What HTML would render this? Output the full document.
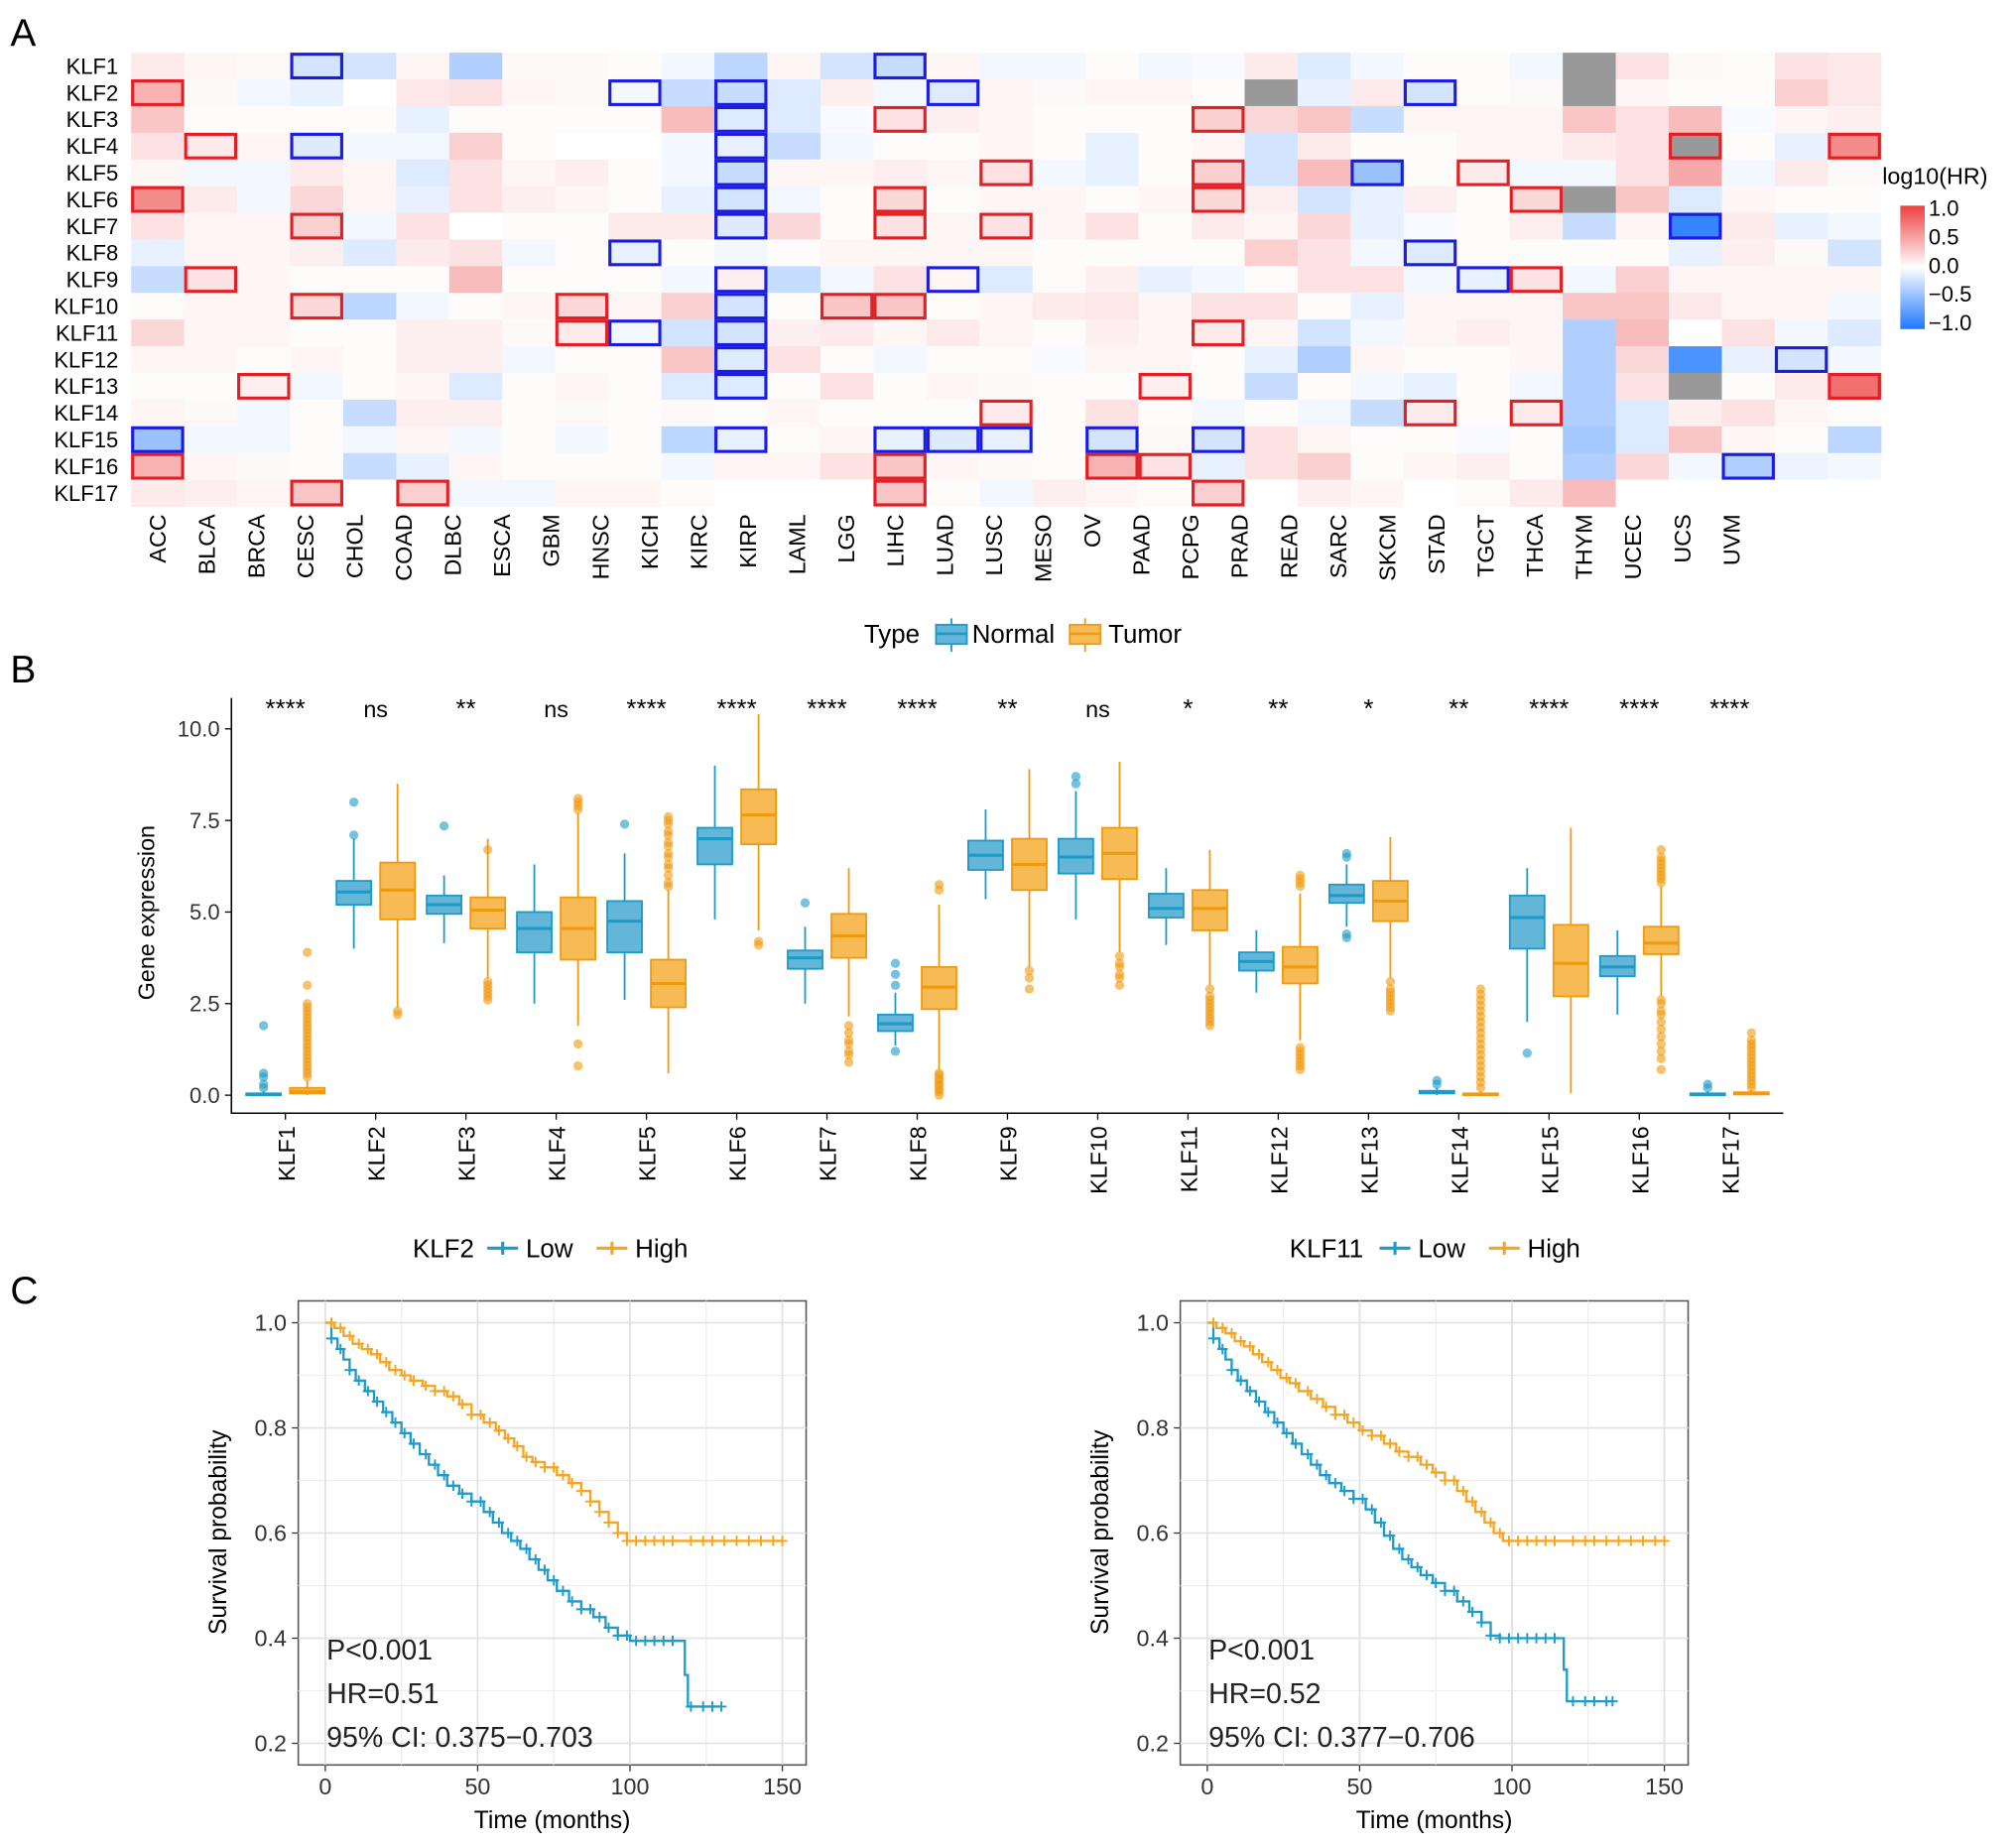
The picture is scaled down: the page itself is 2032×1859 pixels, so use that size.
<!DOCTYPE html>
<html><head><meta charset="utf-8"><style>
html,body{margin:0;padding:0;background:#fff;}
svg{display:block;font-family:"Liberation Sans",Arial,sans-serif;}
</style></head><body>
<svg id="fig" xmlns="http://www.w3.org/2000/svg" width="2032" height="1859" viewBox="0 0 1568 1434.5">
<text x="8" y="36" font-size="30">A</text>
<text x="8" y="531" font-size="30">B</text>
<text x="8" y="1014" font-size="30">C</text>
<g id="heat"></g>
<g id="box"></g>
<g id="km1"></g>
<g id="km2"></g>
</svg>
<script>
const NS='http://www.w3.org/2000/svg';
function mk(tag,attrs,parent,txt){const e=document.createElementNS(NS,tag);for(const k in attrs)e.setAttribute(k,attrs[k]);if(txt!==undefined)e.textContent=txt;parent.appendChild(e);return e;}

// ---------------- Panel A data ----------------
const genes=['KLF1','KLF2','KLF3','KLF4','KLF5','KLF6','KLF7','KLF8','KLF9','KLF10','KLF11','KLF12','KLF13','KLF14','KLF15','KLF16','KLF17'];
const cancers=['ACC','BLCA','BRCA','CESC','CHOL','COAD','DLBC','ESCA','GBM','HNSC','KICH','KIRC','KIRP','LAML','LGG','LIHC','LUAD','LUSC','MESO','OV','PAAD','PCPG','PRAD','READ','SARC','SKCM','STAD','TGCT','THCA','THYM','UCEC','UCS','UVM'];
const NA=null;
const hrValues=[
[.1,.05,.03,-.2,-.2,.05,-.35,.03,.03,.02,-.05,-.3,.05,-.2,-.25,.05,-.05,-.05,.02,-.05,-.03,.1,-.15,-.05,.02,.02,-.05,NA,.15,.03,.02,.15,.12],
[.4,.03,-.05,-.1,0,.12,.15,.05,.03,-.05,-.25,-.25,-.15,.08,-.05,-.15,.05,.03,.05,.05,.02,NA,-.1,.1,-.2,.02,.03,NA,.05,.02,.02,.25,.12],
[.3,.02,.02,.02,.02,-.1,.02,.02,.02,.02,.35,-.15,-.15,-.03,.15,.08,.05,.02,.02,.02,.25,.2,.3,-.25,.05,.05,.05,.3,.15,.35,-.03,.05,.08],
[.15,.1,.05,-.15,-.05,-.05,.25,.02,0,0,-.05,-.1,-.25,-.05,.02,.02,.05,.02,-.1,.02,.05,-.2,.1,.02,.02,.05,.05,.1,.15,NA,.02,-.1,.6],
[.05,-.05,-.05,.1,.05,-.15,.15,.05,.08,.02,-.05,-.25,.05,.05,.08,.05,.15,-.05,-.1,.02,.25,-.2,.35,-.45,.02,.1,-.05,-.05,.15,.45,-.05,.1,.03],
[.6,.1,-.05,.2,.05,-.1,.15,.08,.05,.02,-.1,-.2,-.05,.02,.2,.02,.05,.05,.02,.05,.2,.08,-.2,-.1,.08,.02,.2,NA,.3,-.15,.05,.02,.02],
[.15,.05,.05,.25,-.05,.15,0,.02,.02,.1,.1,-.15,.2,.02,.15,.05,.15,.05,.15,.02,.1,.05,.2,-.1,-.03,.02,.08,-.25,.05,-.9,.1,-.1,-.05],
[-.1,.05,.05,.08,-.15,.1,.15,-.05,.02,-.1,.02,-.05,.02,.05,.05,.05,.05,.02,.02,.02,.02,.25,.15,-.05,-.15,.02,.02,.02,.02,-.1,.08,.03,-.2],
[-.25,.15,.05,.02,.02,.02,.35,.02,.02,.02,-.05,.08,-.25,-.05,.15,.05,-.15,.02,.08,-.1,-.05,.02,.15,.15,-.05,-.1,.15,-.05,.25,.05,.05,.05,.05],
[.02,.05,.05,.2,-.3,-.05,.02,.05,.2,.05,.25,-.2,.02,.3,.3,.02,.05,.1,.12,.05,.15,.15,.02,-.1,.05,.05,.05,.3,.3,.12,.05,.05,-.05],
[.2,.05,.05,.02,.02,.08,.08,.03,.1,-.05,-.2,-.2,.08,.1,.05,.1,.05,.02,.08,.05,.1,.05,-.2,-.05,.05,.08,.05,-.35,.35,0,.15,-.05,-.15],
[.05,.05,.02,.05,.02,.08,.08,-.05,.02,.02,.3,-.15,.15,.02,-.05,.02,.02,-.03,.05,.05,.02,-.1,-.35,.05,.02,.02,.05,-.35,.2,-.8,-.1,-.2,-.05],
[.02,.02,.08,-.05,.02,.05,-.15,.02,.05,.02,-.15,-.15,.02,.15,.02,.05,.03,.02,.02,.08,.02,-.25,.02,-.05,-.1,.02,-.05,-.35,.15,NA,.02,.1,.75],
[.05,.03,-.05,.02,-.25,.08,.08,.02,.03,.02,.03,.02,.05,.02,.02,.02,.1,.02,.15,.02,-.05,.02,-.05,-.25,.1,.02,.1,-.35,-.15,.08,.15,.05,.02],
[-.45,-.05,-.05,.02,-.05,.05,-.05,.02,-.05,.02,-.3,-.1,.02,.05,-.1,-.15,-.1,.02,-.2,.03,-.2,.15,.05,.02,.02,-.03,.02,-.4,-.15,.3,.05,.02,-.3],
[.4,.05,.03,.02,-.25,-.1,.05,.02,.02,.02,-.05,.05,.05,.15,.3,.05,.03,.02,.4,.15,-.1,.15,.25,.02,.05,.08,.02,-.35,.2,-.05,-.35,-.08,-.05],
[.1,.08,.05,.3,0,.25,-.05,-.05,.05,.05,.02,0,0,0,.3,.02,-.05,.08,.05,.02,.25,0,.08,.05,0,.02,.1,.35,0,0,0,0,0]
];
const redBoxes=[[1,0],[2,14],[3,1],[4,16],[5,0],[5,14],[6,3],[6,14],[6,16],[8,1],[9,3],[9,8],[9,13],[9,14],[10,8],[12,2],[13,16],[15,0],[15,14],[16,3],[16,5],[16,14],
[2,20],[3,29],[3,32],[4,20],[4,25],[5,20],[5,26],[8,26],[10,20],[12,19],[12,32],[13,24],[13,26],[15,18],[15,19],[16,20]];
const blueBoxes=[[0,3],[0,14],[1,9],[1,11],[1,15],[2,11],[3,3],[3,11],[4,11],[5,11],[6,11],[7,9],[8,11],[8,15],[9,11],[10,9],[10,11],[11,11],[12,11],[14,0],[14,11],[14,14],[14,15],[14,16],
[1,24],[4,23],[6,29],[7,24],[8,25],[11,31],[14,18],[14,20],[15,30]];
const cbTicks=[1.0,0.5,0.0,-0.5,-1.0];

function hrColor(v){
  if(v===null)return '#999999';
  v=Math.max(-1,Math.min(1,v));
  let r,g,b;
  if(v>=0){r=255+(238-255)*v;g=255+(64-255)*v;b=255+(64-255)*v;}
  else{const t=-v;r=255+(30-255)*t;g=255+(120-255)*t;b=255;}
  return `rgb(${r|0},${g|0},${b|0})`;
}
(function(){
  const g=document.getElementById('heat');
  const x0=102,y0=41,cw=41.24,ch=20.76;
  hrValues.forEach((row,ri)=>row.forEach((v,ci)=>{
    const c=mk('rect',{x:x0+ci*cw,y:y0+ri*ch,width:cw+0.4,height:ch+0.4,fill:hrColor(v)},g);
    
    
  }));
  function box(list,col){list.forEach(([ri,ci])=>{
    const b=mk('rect',{x:x0+ci*cw+1.2,y:y0+ri*ch+1.2,width:cw-2.4,height:ch-2.4,fill:'none',stroke:col,'stroke-width':2.4},g);
    
    
  });}
  box(redBoxes,'#E31F26');box(blueBoxes,'#1C1CE0');
  genes.forEach((gn,i)=>{
    const t=mk('text',{x:92,y:y0+i*ch+ch/2+6,'text-anchor':'end','font-size':17},g,gn);
    
    
  });
  cancers.forEach((cn,i)=>{
    const cx=123+i*38.25+6;
    const t=mk('text',{x:0,y:0,'text-anchor':'end','font-size':18,transform:`translate(${cx},400) rotate(-90)`},g,cn);
    
    
  });
  const defs=mk('defs',{},g);
  const lg=mk('linearGradient',{id:'cbg',x1:0,y1:0,x2:0,y2:1},defs);
  [[0,hrColor(1)],[0.5,'#ffffff'],[1,hrColor(-1)]].forEach(([o,c])=>mk('stop',{offset:o,'stop-color':c},lg));
  const cb=mk('rect',{x:1478,y:160,width:19,height:96,fill:'url(#cbg)'},g);
  
  
  const tt=mk('text',{x:1464,y:143,'font-size':18},g,'log10(HR)');
  
  
  cbTicks.forEach(v=>{
    const y=162+(1-v)/2*89;
    const t=mk('text',{x:1500,y:y+6,'font-size':17},g,(v<0?'\u2212':'')+Math.abs(v).toFixed(1));
    
    
  });
})();

// ---------------- Panel B data ----------------
const boxGenes=genes;
const sigLabels=['****','ns','**','ns','****','****','****','****','**','ns','*','**','*','**','****','****','****'];
const normalStats=[[0,0,0.02,0.05,0.1],[4.0,5.2,5.55,5.85,7.0],[4.15,4.95,5.2,5.45,6.0],[2.5,3.9,4.55,5.0,6.3],[2.6,3.9,4.75,5.3,6.6],[4.8,6.3,7.0,7.3,9.0],[2.5,3.45,3.75,3.95,4.6],[1.35,1.75,1.95,2.2,2.8],[5.35,6.15,6.55,6.95,7.8],[4.8,6.05,6.5,7.0,8.3],[4.1,4.85,5.1,5.5,6.2],[2.8,3.4,3.65,3.9,4.5],[4.6,5.25,5.45,5.75,6.3],[0,0.05,0.08,0.12,0.2],[2.0,4.0,4.85,5.45,6.2],[2.2,3.25,3.5,3.8,4.5],[0,0,0.02,0.05,0.1]];
const tumorStats=[[0,0.05,0.1,0.2,0.4],[2.4,4.8,5.6,6.35,8.5],[3.2,4.55,5.05,5.4,7.0],[1.9,3.7,4.55,5.4,7.7],[0.6,2.4,3.05,3.7,5.6],[4.5,6.85,7.65,8.35,10.4],[2.15,3.75,4.35,4.95,6.2],[0.7,2.35,2.95,3.5,5.2],[3.5,5.6,6.3,7.0,8.9],[3.9,5.9,6.6,7.3,9.1],[3.0,4.5,5.1,5.6,6.7],[1.5,3.05,3.5,4.05,5.5],[3.2,4.75,5.3,5.85,7.05],[0,0,0.02,0.05,0.1],[0.05,2.7,3.6,4.65,7.3],[2.7,3.85,4.15,4.6,5.7],[0,0.02,0.05,0.08,0.15]];
const normalOutliers=[[0.2,0.3,0.5,0.6,1.9],[7.1,8.0],[7.35],[],[7.4],[],[5.25],[1.2,3.0,3.3,3.6],[],[8.5,8.7],[],[],[4.3,4.4,6.5,6.6],[0.3,0.4],[1.15],[],[0.2,0.3]];
const tumorOutliers=[[0.5,0.6,0.7,0.8,0.9,1.0,1.1,1.2,1.3,1.4,1.5,1.6,1.7,1.8,1.9,2.0,2.1,2.2,2.3,2.4,2.5,3.0,3.9],[2.2,2.3],[2.6,2.7,2.8,2.9,3.0,3.1,6.7],[0.8,1.4,7.8,7.9,8.0,8.1],[5.7,5.8,6.0,6.2,6.3,6.5,6.6,6.8,6.9,7.1,7.2,7.4,7.5,7.6],[4.1,4.2],[0.9,1.1,1.2,1.4,1.5,1.7,1.9],[0,0.1,0.15,0.25,0.3,0.4,0.45,0.55,0.6,5.6,5.75],[2.9,3.2,3.4],[3.0,3.2,3.3,3.5,3.6,3.8],[1.9,2.0,2.1,2.2,2.3,2.4,2.5,2.6,2.7,2.9],[0.7,0.8,0.9,1.0,1.1,1.2,1.3,5.7,5.8,5.9,6.0],[2.3,2.4,2.5,2.6,2.7,2.8,2.9,3.1],[0.2,0.35,0.5,0.65,0.8,0.95,1.1,1.25,1.4,1.55,1.7,1.85,2.0,2.15,2.3,2.45,2.6,2.75,2.9],[],[0.7,1.0,1.2,1.4,1.6,1.8,2.0,2.2,2.3,2.5,2.6,5.8,5.9,6.0,6.1,6.2,6.3,6.4,6.5,6.7],[0.2,0.3,0.4,0.5,0.6,0.7,0.8,0.9,1.0,1.1,1.2,1.3,1.4,1.5,1.7]];
const yTicksB=[0,2.5,5,7.5,10];
(function(){
  const g=document.getElementById('box');
  const yS=v=>852-v*28.5;
  const xS=i=>222+i*70.2;
  const ax=mk('path',{d:'M180,543 V866 H1387',fill:'none',stroke:'#000','stroke-width':1.2},g);
  
  
  yTicksB.forEach(v=>{
    mk('line',{x1:175,x2:180,y1:yS(v),y2:yS(v),stroke:'#000'},g);
    const t=mk('text',{x:171,y:yS(v)+6,'text-anchor':'end','font-size':17,fill:'#333'},g,v.toFixed(1));
    
    
  });
  const yt=mk('text',{transform:'translate(120,710) rotate(-90)','text-anchor':'middle','font-size':18},g,'Gene expression');
  
  
  function drawBox(s,outl,cx,fill,stroke,name){
    const w=27;
    mk('line',{x1:cx,x2:cx,y1:yS(s[0]),y2:yS(s[1]),stroke:stroke,'stroke-width':1.4},g);
    mk('line',{x1:cx,x2:cx,y1:yS(s[3]),y2:yS(s[4]),stroke:stroke,'stroke-width':1.4},g);
    const r=mk('rect',{x:cx-w/2,y:yS(s[3]),width:w,height:Math.max(1,yS(s[1])-yS(s[3])),fill:fill,stroke:stroke,'stroke-width':1.4},g);
    
    
    mk('line',{x1:cx-w/2,x2:cx+w/2,y1:yS(s[2]),y2:yS(s[2]),stroke:stroke,'stroke-width':2.4},g);
    outl.forEach(o=>{
      const c=mk('circle',{cx:cx,cy:yS(o),r:3.6,fill:stroke,'fill-opacity':0.6},g);
      
      
    });
  }
  boxGenes.forEach((gn,i)=>{
    const cx=xS(i);
    mk('line',{x1:cx,x2:cx,y1:866,y2:871,stroke:'#000'},g);
    drawBox(normalStats[i],normalOutliers[i],cx-17,'#63B6D8','#1C9BC8','box-normal');
    drawBox(tumorStats[i],tumorOutliers[i],cx+17,'#F7BB55','#F09A0E','box-tumor');
    const t=mk('text',{transform:`translate(${cx+7},876) rotate(-90)`,'text-anchor':'end','font-size':18},g,gn);
    
    
    const s=mk('text',{x:cx,y:558,'text-anchor':'middle','font-size':sigLabels[i]==='ns'?18:20},g,sigLabels[i]);
    
    
  });
  const lt=mk('text',{x:672,y:500,'font-size':20},g,'Type');
  
  
  [[728,'#63B6D8','#1C9BC8','Normal',756],[832,'#F7BB55','#F09A0E','Tumor',862]].forEach(([x,f,s,l,tx])=>{
    mk('line',{x1:x+12,x2:x+12,y1:481,y2:507,stroke:s,'stroke-width':1.4},g);
    const r=mk('rect',{x:x,y:486,width:24,height:15,fill:f,stroke:s,'stroke-width':1.4},g);
    
    
    mk('line',{x1:x,x2:x+24,y1:493,y2:493,stroke:s,'stroke-width':2},g);
    const t=mk('text',{x:tx,y:500,'font-size':20},g,l);
    
    
  });
})();

// ---------------- Panel C data ----------------
const kmXTicks=[0,50,100,150];
const kmYTicks=[0.2,0.4,0.6,0.8,1.0];
const klf2HighT=[0,3,6,9,12,15,18,21,25,28,32,36,40,44,48,52,56,59,62,65,68,72,76,80,84,87,90,93,96,99,150];
const klf2HighS=[1,.99,.975,.96,.95,.94,.925,.91,.9,.89,.88,.87,.86,.845,.825,.81,.795,.78,.765,.745,.735,.725,.71,.695,.68,.66,.64,.62,.6,.585,.585];
const klf2LowT=[0,2,4,6,8,10,13,16,19,22,25,28,31,34,37,40,44,48,52,55,58,61,64,67,70,73,76,80,84,88,92,96,100,117,118,119,130];
const klf2LowS=[1,.97,.95,.93,.91,.89,.87,.85,.83,.81,.79,.77,.75,.73,.71,.69,.675,.66,.64,.62,.6,.585,.57,.55,.53,.51,.49,.47,.455,.44,.42,.405,.395,.395,.33,.27,.27];
const klf11HighT=[0,3,6,9,12,15,18,21,24,27,30,34,38,42,46,50,54,58,62,66,70,74,78,82,85,88,91,94,97,150];
const klf11HighS=[1,.99,.98,.965,.955,.94,.925,.91,.895,.885,.87,.855,.84,.825,.81,.795,.785,.77,.755,.745,.73,.715,.7,.68,.66,.64,.62,.6,.585,.585];
const klf11LowT=[0,2,4,6,8,10,13,16,19,22,25,28,31,34,37,40,44,48,52,55,58,61,64,67,70,74,78,82,86,90,93,96,116,117,118,133];
const klf11LowS=[1,.97,.95,.93,.91,.89,.87,.85,.83,.81,.79,.77,.75,.73,.71,.695,.68,.665,.645,.62,.595,.57,.55,.535,.52,.505,.49,.47,.45,.43,.405,.4,.4,.34,.28,.28];
const censorTimes=[2,5,8,11,14,17,20,23,26,29,33,36,39,42,45,48,51,54,57,60,63,66,69,72,75,78,81,84,87,90,93,96,99,102,105,108,111,114,120,124,127,131,135,139,143,147];

function km(gid,x0,legendName,legendX,highT,highS,lowT,lowS,stats){
  const g=document.getElementById(gid);
  const xS=t=>x0+21+t*2.37;
  const yS=s=>1029+(1-s)*409;
  const L=x0,R=x0+395,T=1012,B=1373;
  const fr=mk('rect',{x:L,y:T,width:R-L,height:B-T,fill:'#fff',stroke:'#555','stroke-width':1.2},g);
  
  
  [25,75,125].forEach(t=>mk('line',{x1:xS(t),x2:xS(t),y1:T,y2:B,stroke:'#eeeeee','stroke-width':1},g));
  [0.3,0.5,0.7,0.9].forEach(s=>mk('line',{x1:L,x2:R,y1:yS(s),y2:yS(s),stroke:'#eeeeee','stroke-width':1},g));
  kmXTicks.forEach(t=>{
    mk('line',{x1:xS(t),x2:xS(t),y1:T,y2:B,stroke:'#e2e2e2','stroke-width':1.4},g);
    mk('line',{x1:xS(t),x2:xS(t),y1:B,y2:B+5,stroke:'#333'},g);
    const tx=mk('text',{x:xS(t),y:B+23,'text-anchor':'middle','font-size':18,fill:'#333'},g,String(t));
    
    
  });
  kmYTicks.forEach(s=>{
    mk('line',{x1:L,x2:R,y1:yS(s),y2:yS(s),stroke:'#e2e2e2','stroke-width':1.4},g);
    mk('line',{x1:L-5,x2:L,y1:yS(s),y2:yS(s),stroke:'#333'},g);
    const ty=mk('text',{x:L-9,y:yS(s)+6,'text-anchor':'end','font-size':18,fill:'#333'},g,s.toFixed(1));
    
    
  });
  const xt=mk('text',{x:(L+R)/2,y:1422,'text-anchor':'middle','font-size':19},g,'Time (months)');
  
  
  const yt=mk('text',{transform:`translate(${L-56},1192) rotate(-90)`,'text-anchor':'middle','font-size':19},g,'Survival probability');
  
  
  function curve(T_,S_,col,name){
    let d=`M${xS(T_[0])},${yS(S_[0])}`;
    for(let i=1;i<T_.length;i++){d+=` H${xS(T_[i])} V${yS(S_[i])}`;}
    const p=mk('path',{d:d,fill:'none',stroke:col,'stroke-width':1.8},g);
    
    
    const tmax=T_[T_.length-1];
    const sAt=t=>{let s=S_[0];for(let i=0;i<T_.length;i++){if(T_[i]<=t)s=S_[i];}return s;};
    censorTimes.concat([tmax]).forEach(t=>{
      if(t>tmax)return;
      const x=xS(t),y=yS(sAt(t));
      const c=mk('path',{d:`M${x-4},${y} H${x+4} M${x},${y-4} V${y+4}`,stroke:col,'stroke-width':1.5},g);
      
      
    });
  }
  curve(lowT,lowS,'#1F9BC9','survival-curve-low');
  curve(highT,highS,'#F5A522','survival-curve-high');
  stats.forEach((s,i)=>{
    const t=mk('text',{x:L+22,y:1291+i*34,'font-size':22,fill:'#222'},g,s);
    
    
  });
  const lt=mk('text',{x:legendX,y:978,'font-size':20},g,legendName);
  
  
  const off=legendName.length*12+10;
  [[off,'#1F9BC9','Low'],[off+85,'#F5A522','High']].forEach(([o,c,l])=>{
    const x=legendX+o;
    const k=mk('path',{d:`M${x},971 H${x+24} M${x+12},966 V976`,stroke:c,'stroke-width':2.4},g);
    
    
    const t=mk('text',{x:x+30,y:978,'font-size':20},g,l);
    
    
  });
}
km('km1',232,'KLF2',321,klf2HighT,klf2HighS,klf2LowT,klf2LowS,['P<0.001','HR=0.51','95% CI: 0.375\u22120.703']);
km('km2',918,'KLF11',1003,klf11HighT,klf11HighS,klf11LowT,klf11LowS,['P<0.001','HR=0.52','95% CI: 0.377\u22120.706']);
</script>
</body></html>
